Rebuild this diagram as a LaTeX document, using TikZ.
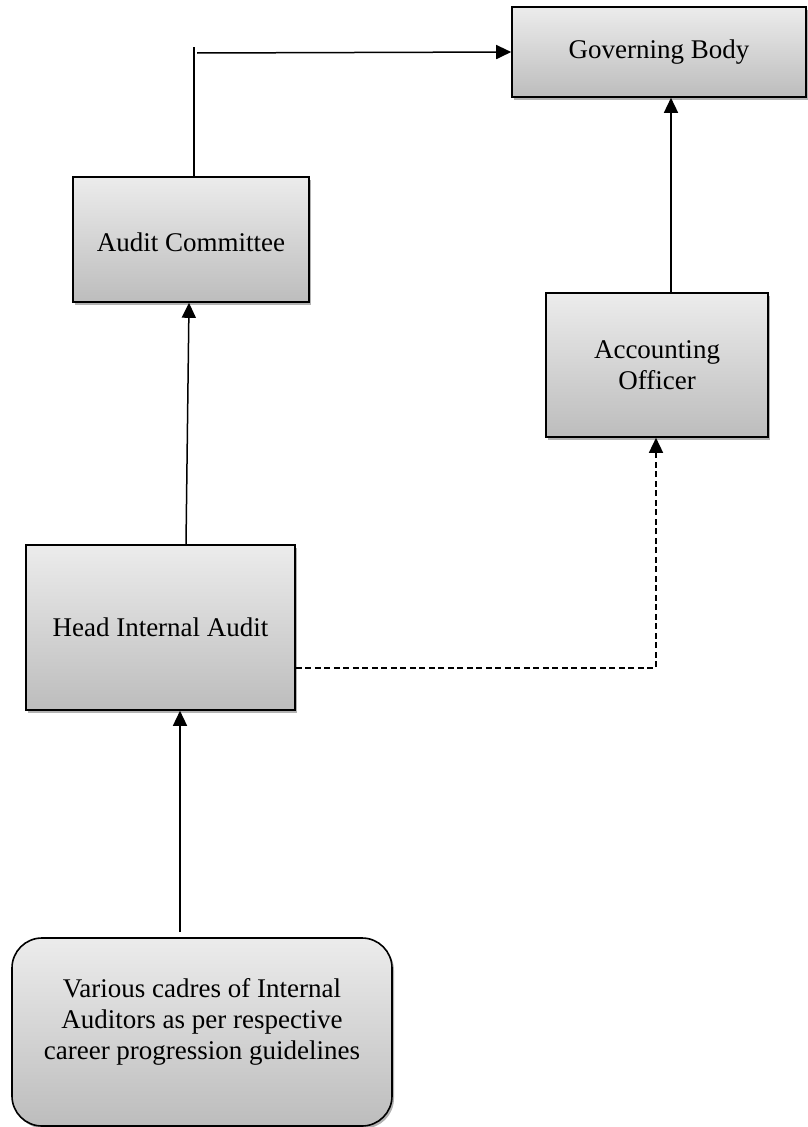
\documentclass[tikz,border=0pt]{standalone}
\usepackage{fontspec}
\setmainfont{Liberation Serif}
\usetikzlibrary{arrows.meta,shadows}
\begin{document}
\begin{tikzpicture}[x=1pt,y=-1pt,
  boxstyle/.style={draw=black, line width=1.6pt, top color=gray!15, bottom color=gray!52,
    drop shadow={shadow xshift=2pt, shadow yshift=-2.5pt, opacity=0.3, fill=black},
    font=\fontsize{27}{31}\selectfont, align=center, inner sep=0pt},
  roundbox/.style={boxstyle, rounded corners=30pt},
  conn/.style={line width=1.5pt, draw=black},
  arr/.style={conn, -{Triangle[length=15pt,width=14pt]}},
  dasharr/.style={arr, dash pattern=on 6pt off 3.5pt}]
\useasboundingbox (0,0) rectangle (807,1127);
% boxes
\node[boxstyle, minimum width=294pt, minimum height=90pt] (gb) at (659,52) {\raisebox{-2pt}{Governing Body}};
\node[boxstyle, minimum width=236pt, minimum height=125pt, text height=30pt, text depth=6pt] (ac) at (191,239.5) {Audit Committee};
\node[boxstyle, minimum width=222pt, minimum height=144pt] (ao) at (657,365) {Accounting\\Officer};
\node[boxstyle, minimum width=269pt, minimum height=165pt] (hia) at (160.5,627.5) {Head Internal Audit};
\node[roundbox, minimum width=380pt, minimum height=188pt] (var) at (202,1032) {};
\node[font=\fontsize{27}{31}\selectfont, align=center] (vartext) at (202,1022)
  {Various cadres of Internal\\Auditors as per respective\\career progression guidelines};
% helper coordinates
\coordinate (actop) at (194,47);
\coordinate (hstart) at (197,53);
\coordinate (aox) at (671,0);
\coordinate (hiax) at (186,0);
\coordinate (acx) at (189,0);
\coordinate (varstart) at (180,932);
\coordinate (dashy) at (0,668);
\coordinate (dashcorner) at (656,668);
% connectors
\draw[conn] (actop |- ac.north) -- (actop);
\draw[arr] (hstart) -- (gb.west);
\draw[arr] (ao.north -| aox) -- (gb.south -| aox);
\draw[arr] (hia.north -| hiax) -- (ac.south -| acx);
\draw[arr] (varstart) -- (hia.south -| varstart);
\draw[dasharr] (hia.east |- dashy) -- (dashcorner) -- (ao.south -| dashcorner);
\end{tikzpicture}
\end{document}
